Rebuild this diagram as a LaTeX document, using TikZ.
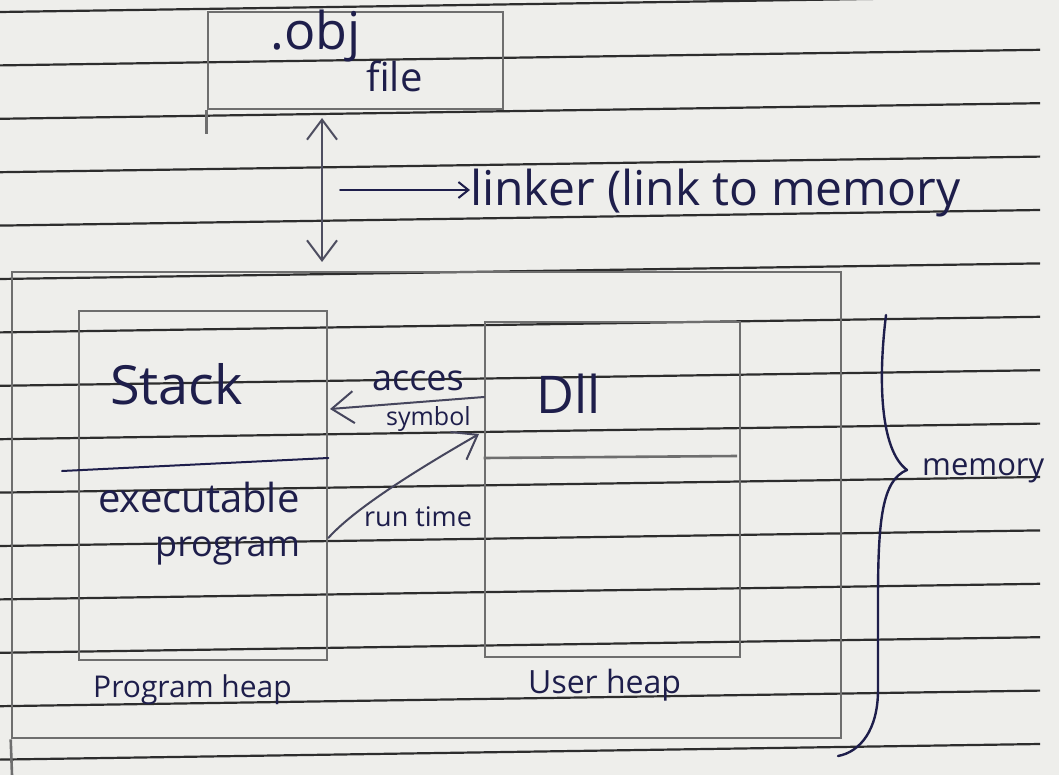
\documentclass[tikz,border=0pt]{standalone}
\usepackage{fontspec}
\setmainfont{Open Sans}
\usetikzlibrary{arrows.meta}
\definecolor{paper}{RGB}{238,238,235}
\definecolor{rulec}{RGB}{45,45,45}
\definecolor{pencil}{RGB}{110,110,110}
\definecolor{ink}{RGB}{30,30,75}
\tikzset{
  ruleline/.style={rulec, line width=2.2pt},
  pbox/.style={draw=pencil, line width=2.6pt, rectangle, inner sep=0pt},
  pline/.style={pencil, line width=2.6pt},
  inkline/.style={ink, line width=2pt, line cap=round, line join=round},
  hand/.style={ink, inner sep=0pt, anchor=base west},
  bigbarb/.style={inkline, pencil!60!ink, {Straight Barb[length=20pt,width=30pt,line width=2pt]}-{Straight Barb[length=20pt,width=30pt,line width=2pt]}},
  smallbarb/.style={inkline, -{Straight Barb[length=10pt,width=16pt,line width=2pt]}},
  midbarb/.style={inkline, pencil!50!ink, -{Straight Barb[length=22pt,width=32pt,line width=2pt]}},
}
\begin{document}
\begin{tikzpicture}[x=1pt,y=-1pt]
\fill[paper] (0,0) rectangle (1059,775);
\useasboundingbox (0,0) rectangle (1059,775);
% ruled paper
\foreach \k in {0,...,14}{
  \draw[ruleline] (0,{12+53.4*\k}) -- (1040,{12+53.4*\k-15.6});
}
% .obj file box
\node[pbox, minimum width=295pt, minimum height=97pt] (obj) at (355.5,60.5) {};
\draw[pline] (obj.south west) -- ++(0,24);
\node[hand, font=\fontsize{52}{56}\selectfont] (objt) at (270,50) {.obj};
\node[hand, font=\fontsize{40}{44}\selectfont] (filet) at (366,92) {file};
% linker arrows
\coordinate (ua) at (322,118);
\coordinate (ub) at (322,262);
\draw[bigbarb] (ua) -- (ub);
\coordinate (la) at (340,190);
\node[hand, font=\fontsize{48}{52}\selectfont] (linker) at (470,206) {linker (link to memory};
\draw[smallbarb] (la) -- (linker.base west |- la);
% memory outer box
\node[pbox, minimum width=829pt, minimum height=466pt] (mem) at (426.5,505) {};
\draw[pline] (mem.south west) -- (12,775);
% program heap box
\node[pbox, minimum width=248pt, minimum height=349pt] (prog) at (203,485.5) {};
\draw[inkline] (62,471) -- (prog.east |- 0,458);
\node[hand, font=\fontsize{54}{58}\selectfont] (stack) at (110,404) {Stack};
\node[hand, font=\fontsize{40}{44}\selectfont] (exe) at (98,512) {executable};
\node[hand, font=\fontsize{36}{40}\selectfont] (progt) at (155,556) {program};
\node[hand, font=\fontsize{30}{34}\selectfont] (pheap) at (93,697) {Program heap};
% user heap box
\node[pbox, minimum width=255pt, minimum height=335pt] (user) at (612.5,489.5) {};
\draw[pline] (user.west |- 0,458) -- (737,456);
\node[hand, font=\fontsize{52}{56}\selectfont] (dll) at (536,413) {Dll};
\node[hand, font=\fontsize{32}{36}\selectfont] (uheap) at (528,693) {User heap};
% access symbol / run time arrows
\coordinate (acA) at (484,397);
\coordinate (acB) at (330,409);
\draw[midbarb] (acA) -- (acB);
\node[hand, font=\fontsize{36}{40}\selectfont] (acces) at (372,390) {acces};
\node[hand, font=\fontsize{25}{28}\selectfont] (symb) at (386,425) {symbol};
\coordinate (rtA) at (prog.east |- 0,538);
\coordinate (rtB) at (479,434);
\draw[midbarb] (rtA) .. controls (355,508) and (420,468) .. (rtB);
\node[hand, font=\fontsize{27}{30}\selectfont] (rtime) at (364,526) {run time};
% memory brace
\draw[inkline, line width=2.4pt] (886,315) .. controls (878,380) and (880,450) .. (907,470)
  .. controls (882,480) and (878,520) .. (878,600) -- (878,690)
  .. controls (878,730) and (860,752) .. (838,756);
\node[hand, font=\fontsize{31}{34}\selectfont] (memt) at (922,475) {memory};
\end{tikzpicture}
\end{document}
